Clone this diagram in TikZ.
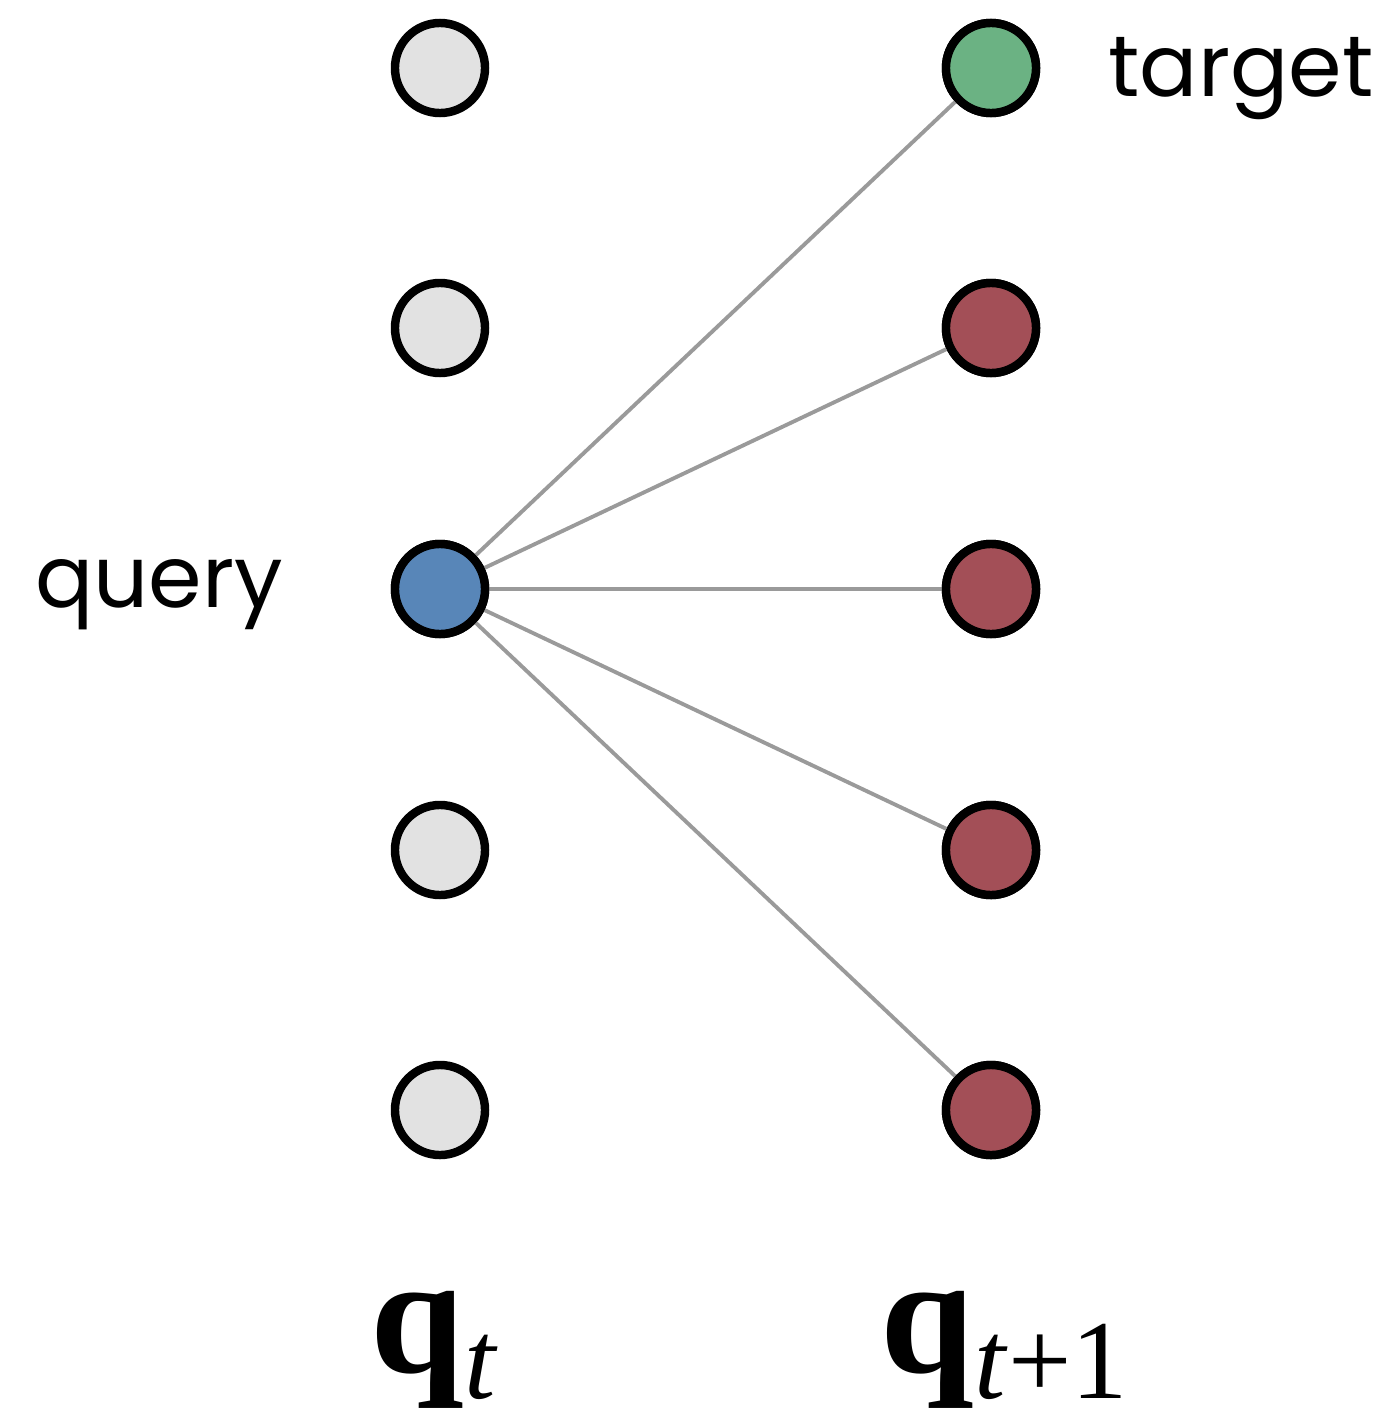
\documentclass[tikz,border=0pt]{standalone}
\usepackage{fontspec}
\setmainfont{Liberation Serif}
\newfontfamily\labfont{Poppins}
\definecolor{nodegray}{HTML}{E2E2E2}
\definecolor{nodegreen}{HTML}{6BB283}
\definecolor{nodered}{HTML}{A34F57}
\definecolor{nodeblue}{HTML}{5886B8}
\definecolor{edgegray}{HTML}{9A9A9A}
\tikzset{
  unit/.style={circle, draw=black, line width=2.4pt, minimum size=0.90cm, inner sep=0pt},
  gray unit/.style={unit, fill=nodegray},
  green unit/.style={unit, fill=nodegreen},
  red unit/.style={unit, fill=nodered},
  blue unit/.style={unit, fill=nodeblue},
  link/.style={draw=edgegray, line width=1.1pt},
  wordlabel/.style={font=\labfont\fontsize{24.5}{28}\selectfont, inner sep=0pt, anchor=base},
  veclabel/.style={font=\fontsize{48}{56}\selectfont, inner sep=0pt, anchor=base west}
}
\newcommand{\subtext}[1]{\raisebox{-0.26cm}[0pt][0pt]{\fontsize{32}{38}\selectfont #1}}
\begin{document}
\begin{tikzpicture}[x=0.01cm, y=-0.01cm]
\useasboundingbox (0,0) rectangle (1393,1424);
% left column
\node[gray unit] (l1) at (440,68) {};
\node[gray unit] (l2) at (440,328) {};
\node[blue unit] (l3) at (440,589) {};
\node[gray unit] (l4) at (440,850) {};
\node[gray unit] (l5) at (440,1110) {};
% right column
\node[green unit] (r1) at (991,68) {};
\node[red unit] (r2) at (991,328) {};
\node[red unit] (r3) at (991,589) {};
\node[red unit] (r4) at (991,850) {};
\node[red unit] (r5) at (991,1110) {};
% connectors (behind nodes)
\foreach \r in {r1,r2,r3,r4,r5} {
  \path[link] (l3) -- (\r);
}
% redraw nodes on top
\node[blue unit] at (l3) {};
\node[green unit] at (r1) {};
\node[red unit] at (r2) {};
\node[red unit] at (r3) {};
\node[red unit] at (r4) {};
\node[red unit] at (r5) {};
% labels
\node[wordlabel] (query) at (159,607) {query};
\node[wordlabel] (target) at (1241,97) {target};
\node[veclabel] (qt) at (370,1372) {\textbf{q}\subtext{\textit{t}}};
\node[veclabel] (qt1) at (880,1372) {\textbf{q}\subtext{\textit{t}+1}};
\end{tikzpicture}
\end{document}
